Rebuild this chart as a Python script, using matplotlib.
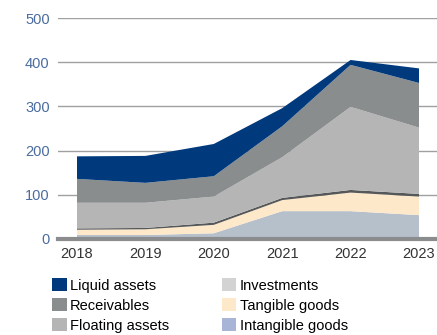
import matplotlib.pyplot as plt
from matplotlib.patches import Patch

plt.rcParams['font.family'] = ['Liberation Sans Narrow', 'Liberation Sans', 'DejaVu Sans']

years = [2018, 2019, 2020, 2021, 2022, 2023]

# stacked from bottom to top
intangible = [9, 9, 13, 63, 63, 54]
tangible = [12, 13, 19, 25, 42, 42]
investments = [3, 3, 5, 5, 6, 6]
floating = [58, 57, 59, 92, 188, 150]
receivables = [54, 45, 46, 70, 95, 101]
liquid = [51, 61, 73, 41, 11, 33]

area_colors = ['#b6c0cb', '#fde9c9', '#555759', '#b5b5b5', '#898d8e', '#003a7d']

legend_labels = ['Liquid assets', 'Receivables', 'Floating assets',
                 'Investments', 'Tangible goods', 'Intangible goods']
legend_colors = ['#003a7d', '#898d8e', '#b5b5b5', '#d3d3d3', '#fde9c9', '#a8b5d6']

fig = plt.figure(figsize=(4.37, 3.35), dpi=100)
ax = fig.add_axes([58 / 437, 1 - 239 / 335, 1 - 58 / 437, 221 / 335])

ax.stackplot(years, intangible, tangible, investments, floating, receivables, liquid,
             colors=area_colors, linewidth=0, zorder=2)

ax.set_xlim(2018 - 19 / 68.4, 2023 + 18 / 68.4)
ax.set_ylim(0, 500)
ax.set_yticks([0, 100, 200, 300, 400, 500])
ax.set_xticks(years)

for v in [100, 200, 300, 400, 500]:
    ax.axhline(v, color='#a0a0a0', linewidth=1.0, zorder=1)
ax.axhline(0, color='#8a8c8e', linewidth=3, zorder=3, clip_on=False)

for s in ax.spines.values():
    s.set_visible(False)
ax.tick_params(axis='both', length=0, labelsize=10.5)
ax.tick_params(axis='y', pad=6, labelcolor='#4a6c9e')
ax.tick_params(axis='x', pad=6, labelcolor='#333333')

handles = [Patch(facecolor=c, edgecolor='none') for c in legend_colors]
fig.legend(handles, legend_labels, ncol=2, loc='upper left',
           bbox_to_anchor=(52 / 437, 1 - 278 / 335), frameon=False,
           fontsize=10.5, handlelength=1.0, handleheight=1.0,
           handletextpad=0.25, labelspacing=0.38, columnspacing=3.6,
           borderaxespad=0, borderpad=0)

plt.savefig('out.png', dpi=100)
